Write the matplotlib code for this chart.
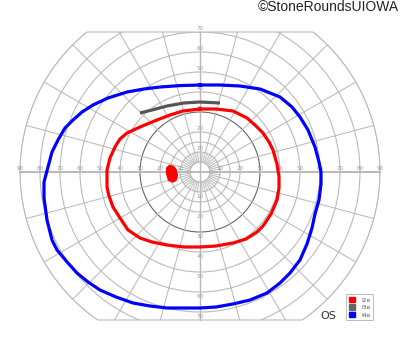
import numpy as np
import matplotlib
matplotlib.use("Agg")
import matplotlib.pyplot as plt
from matplotlib.patches import Circle, Polygon, Patch

# isopter outlines, (x, y) in degrees of visual field
i4e_x = [0, 10, 20, 30, 40, 46, 50, 54, 57.5, 59.5, 60.5, 60.5, 59.5, 57.5, 56, 53.5, 50, 45, 40, 33.5, 25, 16.5, 8, 0,
         -16.5, -25, -33.5, -42, -50, -56, -61.5, -66, -71.5, -74, -76.5, -78, -78, -76, -74, -71, -67.5, -63.5, -59,
         -53.5, -46, -36.5, -28, -20, -10, 0]
i4e_y = [43.5, 43.5, 43, 41.5, 37.5, 32.5, 27.5, 21, 12.5, 5, 0, -6, -14, -21, -28, -36, -44, -50.5, -55.5, -60.5, -64,
         -66, -67.5, -68, -68, -67, -65.5, -62.5, -59, -55, -50.5, -45.5, -39, -34, -24, -13, -5, 2.5, 10, 16, 22, 26,
         30, 33.5, 37, 40, 41.5, 42.5, 43.2, 43.5]

i2e_x = [0, 8, 16.5, 23.5, 28, 31.5, 34.5, 36.5, 38.5, 39.5, 39.5, 38.5, 35.5, 31.5, 28.5, 23, 16.5, 8, 0, -8, -16.5,
         -24, -30, -36, -40, -43.5, -45.5, -46.5, -46.5, -45, -42.5, -40, -36.5, -30, -21.5, -15, -8.5, 0]
i2e_y = [31.5, 31.5, 30.5, 27, 23, 19.5, 15, 11, 4, -2.5, -8, -14, -21, -27, -30, -33.5, -35.5, -37, -37.5, -37.5, -36.5,
         -35, -33, -29, -23, -17.5, -12, -7.5, 1, 7, 12.5, 16.5, 19.5, 22.5, 26, 28.5, 30.5, 31.5]

i3e_x = [-30, -24, -16.5, -8, 0, 10]
i3e_y = [29.5, 31, 33, 34.5, 35, 34.5]

# scotoma (I2e)
scot_x = [-15.3, -13.3, -12, -11.3, -12, -13.7, -15.7, -16.7, -16.7]
scot_y = [3.3, 2.8, 1.3, -1.7, -4.2, -5, -4.2, -0.8, 2]

rings = [5, 10, 15, 20, 30, 40, 50, 60, 70, 80, 90]
h_labels = [10, 20, 30, 40, 50, 60, 70, 80, 90]
v_labels = [10, 20, 30, 40, 50, 60, 70]
legend_names = ["I2e", "I3e", "I4e"]
legend_colors = ["#ff0000", "#666666", "#0000ff"]

fig = plt.figure(figsize=(4, 3.52), dpi=100)
ax = fig.add_axes([0, 0, 1, 1])
ax.set_xlim(-100, 100)
ax.set_ylim(-90, 86)
ax.set_aspect("equal")
ax.axis("off")

grid_c = "#bababa"

# chart outline: 90 deg circle cut at top and bottom
t = np.linspace(0, 2 * np.pi, 721)
bx = 90 * np.cos(t)
by = np.clip(90 * np.sin(t), -74, 70)
clip = Polygon(np.column_stack([bx, by]), closed=True, transform=ax.transData)
ax.plot(bx, by, color=grid_c, lw=0.8)

for r in rings:
    c = Circle((0, 0), r, fill=False, ec="#666666" if r == 30 else grid_c, lw=0.8)
    ax.add_patch(c)
    c.set_clip_path(clip)

for a in np.arange(0, 360, 15):
    ar = np.radians(a)
    ln, = ax.plot([5 * np.cos(ar), 90 * np.cos(ar)], [5 * np.sin(ar), 90 * np.sin(ar)], color=grid_c, lw=0.75)
    ln.set_clip_path(clip)
for a in np.arange(7.5, 360, 15):
    ar = np.radians(a)
    ax.plot([5 * np.cos(ar), 10 * np.cos(ar)], [5 * np.sin(ar), 10 * np.sin(ar)], color=grid_c, lw=0.7)

ax.plot([-90, 90], [0, 0], color=grid_c, lw=1.4)
ax.plot([0, 0], [-74, 70], color=grid_c, lw=1.0)

lab_kw = dict(fontsize=4, color="#9a9a9a", ha="center")
for v in h_labels:
    ax.text(-v, 0.5, str(v), va="bottom", **lab_kw)
    ax.text(v, 0.5, str(v), va="bottom", **lab_kw)
for v in v_labels:
    ax.text(0, v + 0.3, str(v), va="bottom", **lab_kw)
    ax.text(0, -v - 1.2, str(v), va="top", **lab_kw)

ax.plot(i4e_x, i4e_y, color="#0000ff", lw=2.3, solid_joinstyle="round", zorder=4)
ax.plot(i2e_x, i2e_y, color="#ff0000", lw=2.3, solid_joinstyle="round", zorder=4)
ax.plot(i3e_x, i3e_y, color="#555555", lw=2.3, solid_capstyle="butt", zorder=4)
ax.fill(scot_x, scot_y, color="#ff0000", lw=1.0, ec="#ff0000", zorder=4)

ax.text(64, -72, "OS", fontsize=8, color="#333333", ha="center", va="center")
handles = [Patch(fc=c, ec=c, label=n) for n, c in zip(legend_names, legend_colors)]
leg = ax.legend(handles=handles, loc="lower left", bbox_to_anchor=(0.858, 0.082), bbox_transform=fig.transFigure,
                fontsize=4.2, handlelength=1.1, handleheight=1.1, handletextpad=1.1, labelspacing=0.3,
                borderpad=0.45, fancybox=False, framealpha=1)
leg.get_frame().set_edgecolor("#bbbbbb")
leg.get_frame().set_linewidth(0.7)
for txt in leg.get_texts():
    txt.set_color("#555555")

fig.text(0.998, 0.98, "\u00a9StoneRoundsUIOWA", fontsize=10, color="#222222", ha="right", va="center",
         family="Liberation Sans")

fig.savefig("out.png", dpi=100)
